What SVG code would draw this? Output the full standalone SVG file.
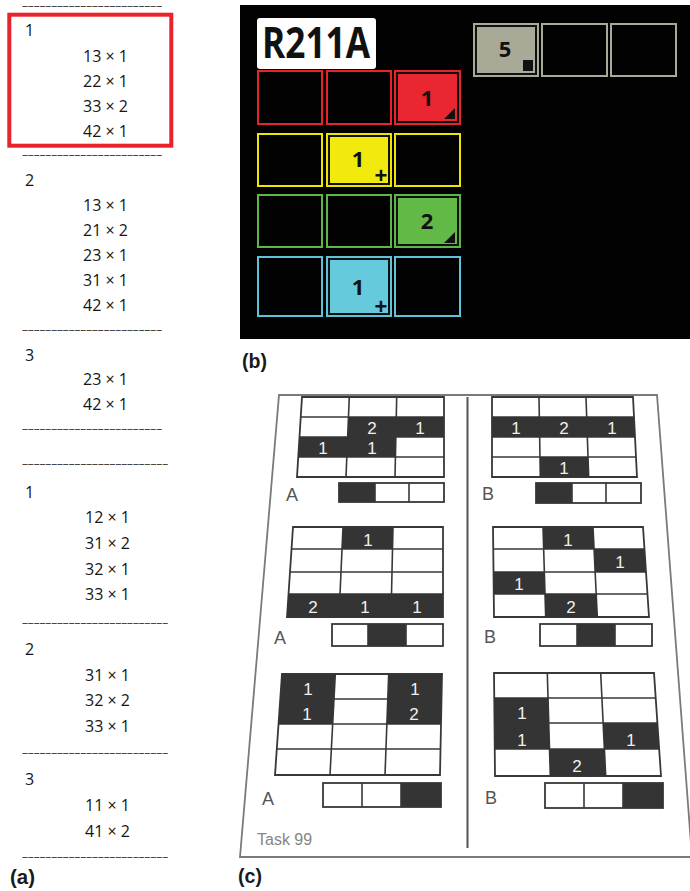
<svg xmlns="http://www.w3.org/2000/svg" width="690" height="891" viewBox="0 0 690 891">
<style>
.t{font-family:'Open Sans','Liberation Sans',sans-serif;font-size:16px;fill:#151515}
.d{font-family:'Liberation Sans',Arial,sans-serif;font-size:9px;fill:#333;stroke:#333;stroke-width:0.3}
.pl{font-family:'Liberation Sans',Arial,sans-serif;font-size:21px;font-weight:bold;fill:#1a1a1a}
.cn{font-family:'Open Sans','Liberation Sans',sans-serif;font-size:22px;font-weight:bold;fill:#111;text-anchor:middle}
.pm{font-family:'Liberation Sans',Arial,sans-serif;font-size:22px;font-weight:bold;fill:#111;text-anchor:middle}
.gf{fill:#fff;stroke:#383838;stroke-width:1.8}
.gl{stroke:#383838;stroke-width:1.6;fill:none}
.dk{fill:#343434}
.wn{font-family:'Liberation Sans',Arial,sans-serif;font-size:17px;fill:#f0f0f0;text-anchor:middle}
.lab{font-family:'Liberation Sans',Arial,sans-serif;font-size:18px;fill:#555}
</style>
<rect width="690" height="891" fill="#fff"/>

<!-- Panel (a) -->
<g id="panel-a">
  <rect id="highlight" x="9.3" y="14.7" width="162" height="131" fill="none" stroke="#e8232b" stroke-width="4"/>
  <g id="sep">
    <text class="d" x="22" y="8.6" textLength="140" lengthAdjust="spacingAndGlyphs">------------------------</text>
    <text class="d" x="22" y="158.2" textLength="140" lengthAdjust="spacingAndGlyphs">------------------------</text>
    <text class="d" x="22" y="332.5" textLength="140" lengthAdjust="spacingAndGlyphs">------------------------</text>
    <text class="d" x="22" y="431.5" textLength="140" lengthAdjust="spacingAndGlyphs">------------------------</text>
    <text class="d" x="22" y="467.2" textLength="146" lengthAdjust="spacingAndGlyphs">-------------------------</text>
    <text class="d" x="22" y="625.5" textLength="146" lengthAdjust="spacingAndGlyphs">-------------------------</text>
    <text class="d" x="22" y="755.5" textLength="146" lengthAdjust="spacingAndGlyphs">-------------------------</text>
    <text class="d" x="22" y="859.5" textLength="146" lengthAdjust="spacingAndGlyphs">-------------------------</text>
  </g>
  <g id="a-s1">
    <text class="t" x="25" y="36">1</text>
    <text class="t" x="83" y="61.5">13 × 1</text>
    <text class="t" x="83" y="87">22 × 1</text>
    <text class="t" x="83" y="111.5">33 × 2</text>
    <text class="t" x="83" y="136.5">42 × 1</text>
  </g>
  <g id="a-s2">
    <text class="t" x="25" y="185.5">2</text>
    <text class="t" x="83" y="211">13 × 1</text>
    <text class="t" x="83" y="236">21 × 2</text>
    <text class="t" x="83" y="261">23 × 1</text>
    <text class="t" x="83" y="286">31 × 1</text>
    <text class="t" x="83" y="310.5">42 × 1</text>
  </g>
  <g id="a-s3">
    <text class="t" x="25" y="360.5">3</text>
    <text class="t" x="83" y="385">23 × 1</text>
    <text class="t" x="83" y="410">42 × 1</text>
  </g>
  <g id="a-s4">
    <text class="t" x="25" y="498">1</text>
    <text class="t" x="85" y="523">12 × 1</text>
    <text class="t" x="85" y="549">31 × 2</text>
    <text class="t" x="85" y="574.5">32 × 1</text>
    <text class="t" x="85" y="600">33 × 1</text>
  </g>
  <g id="a-s5">
    <text class="t" x="25" y="655">2</text>
    <text class="t" x="85" y="680.5">31 × 1</text>
    <text class="t" x="85" y="706">32 × 2</text>
    <text class="t" x="85" y="731.5">33 × 1</text>
  </g>
  <g id="a-s6">
    <text class="t" x="25" y="784.5">3</text>
    <text class="t" x="85" y="810.5">11 × 1</text>
    <text class="t" x="85" y="836.5">41 × 2</text>
  </g>
  <text class="pl" x="10" y="884" textLength="25" lengthAdjust="spacingAndGlyphs">(a)</text>
</g>

<!-- Panel (b) -->
<g id="panel-b">
  <rect x="240" y="5" width="450" height="334" fill="#020202"/>
  <g id="b-label-box">
    <rect x="257" y="18" width="119" height="51" rx="3" fill="#fff"/>
    <text x="262" y="58" font-family="'Open Sans','Liberation Sans',sans-serif" font-size="43" font-weight="bold" fill="#111" textLength="108" lengthAdjust="spacingAndGlyphs">R211A</text>
  </g>
  <g id="b-red" stroke="#e8232b" stroke-width="2" fill="#020202">
    <rect x="258" y="71" width="64" height="53"/>
    <rect x="327" y="71" width="64" height="53"/>
    <rect x="395" y="71" width="65" height="53"/>
    <rect x="397" y="73" width="61" height="49" fill="#ea2630" stroke="#111"/>
    <polygon points="444,119 455,119 455,108" fill="#111" stroke="none"/>
    <text class="cn" x="427" y="106" stroke="none">1</text>
  </g>
  <g id="b-yellow" stroke="#eee400" stroke-width="2" fill="#020202">
    <rect x="258" y="134" width="64" height="52"/>
    <rect x="327" y="134" width="64" height="52"/>
    <rect x="395" y="134" width="65" height="52"/>
    <rect x="329" y="136" width="60" height="48" fill="#f2ea0c" stroke="#111"/>
    <text class="cn" x="358" y="167" stroke="none">1</text>
    <text class="pm" x="381" y="182.7" stroke="none">+</text>
  </g>
  <g id="b-green" stroke="#5fb648" stroke-width="2" fill="#020202">
    <rect x="258" y="195" width="64" height="52"/>
    <rect x="327" y="195" width="64" height="52"/>
    <rect x="395" y="195" width="65" height="52"/>
    <rect x="397" y="197" width="61" height="48" fill="#63b946" stroke="#111"/>
    <polygon points="444,243 455,243 455,232" fill="#111" stroke="none"/>
    <text class="cn" x="427" y="229" stroke="none">2</text>
  </g>
  <g id="b-cyan" stroke="#5ec3d8" stroke-width="2" fill="#020202">
    <rect x="258" y="257" width="64" height="59"/>
    <rect x="327" y="257" width="64" height="59"/>
    <rect x="395" y="257" width="65" height="59"/>
    <rect x="329" y="259" width="60" height="55" fill="#66cadd" stroke="#111"/>
    <text class="cn" x="358" y="295" stroke="none">1</text>
    <text class="pm" x="381" y="313.7" stroke="none">+</text>
  </g>
  <g id="b-gray" stroke="#a9a99a" stroke-width="2" fill="#020202">
    <rect x="474" y="24" width="64" height="52"/>
    <rect x="542" y="24" width="65" height="52"/>
    <rect x="611" y="24" width="65" height="52"/>
    <rect x="476" y="26" width="60" height="48" fill="#a9a998" stroke="#111"/>
    <rect x="523" y="60" width="10" height="11" fill="#111" stroke="none"/>
    <text class="cn" x="505" y="57" stroke="none">5</text>
  </g>
  <text class="pl" x="242" y="368" textLength="25" lengthAdjust="spacingAndGlyphs">(b)</text>
</g>

<!-- Panel (c) -->
<g id="panel-c">
  <polygon id="sheet" points="279,395 657,395 692,857 240,857" fill="#fff" stroke="#7a7a7a" stroke-width="1.8"/>
  <line id="divider" x1="467.5" y1="397" x2="467.5" y2="848" stroke="#555" stroke-width="2"/>

  <g id="grid-a1">
    <polygon class="gf" points="302,397 444,397 444,477 297,477"/>
    <path class="gl" d="M300.8,417H444M299.5,437H444M298.3,457H444M349.3,397L346,477M396.7,397L395,477"/>
    <polygon class="dk" points="348.5,417 444,417 444,437 347.7,437"/>
    <polygon class="dk" points="299.5,437 395.8,437 395.4,457 298.3,457"/>
    <text class="wn" x="372" y="434">2</text>
    <text class="wn" x="420" y="434">1</text>
    <text class="wn" x="323" y="454">1</text>
    <text class="wn" x="372" y="454">1</text>
  </g>
  <g id="bar-a1">
    <text class="lab" x="286" y="501">A</text>
    <rect class="gf" x="339" y="483" width="105" height="19"/>
    <rect class="dk" x="339" y="483" width="36" height="19"/>
    <path class="gl" d="M375,483V502M409,483V502"/>
  </g>

  <g id="grid-b1">
    <polygon class="gf" points="492,397 633,397 637,477 492,477"/>
    <path class="gl" d="M492,417H634M492,437H635M492,457H636M539,397L540.3,477M586,397L588.7,477"/>
    <polygon class="dk" points="492,417 634,417 635,437 492,437"/>
    <polygon class="dk" points="540,457 588,457 588.7,477 540.3,477"/>
    <text class="wn" x="516" y="434">1</text>
    <text class="wn" x="564" y="434">2</text>
    <text class="wn" x="612" y="434">1</text>
    <text class="wn" x="564" y="474">1</text>
  </g>
  <g id="bar-b1">
    <text class="lab" x="482" y="500">B</text>
    <rect class="gf" x="536" y="483" width="105" height="20"/>
    <rect class="dk" x="536" y="483" width="36" height="20"/>
    <path class="gl" d="M572,483V503M606,483V503"/>
  </g>

  <g id="grid-a2">
    <polygon class="gf" points="293,527 443,527 443,617 287,617"/>
    <path class="gl" d="M291.5,549H443M290,572H443M288.5,594H443M343,527L339,617M393,527L391,617"/>
    <polygon class="dk" points="343,527 393,527 392.5,549 342,549"/>
    <polygon class="dk" points="288.5,594 443,594 443,617 287,617"/>
    <text class="wn" x="368" y="545.5">1</text>
    <text class="wn" x="313" y="613">2</text>
    <text class="wn" x="365" y="613">1</text>
    <text class="wn" x="417" y="613">1</text>
  </g>
  <g id="bar-a2">
    <text class="lab" x="274" y="644">A</text>
    <rect class="gf" x="332" y="624" width="111" height="22"/>
    <rect class="dk" x="368" y="624" width="38" height="22"/>
    <path class="gl" d="M368,624V646M406,624V646"/>
  </g>

  <g id="grid-b2">
    <polygon class="gf" points="493,527 643,527 649,617 494,617"/>
    <path class="gl" d="M493.2,549H644.5M493.5,572H646M493.7,594H647.5M543,527L545.7,617M593,527L597.3,617"/>
    <polygon class="dk" points="543,527 593,527 594.1,549 543.7,549"/>
    <polygon class="dk" points="594.1,549 644.5,549 646,572 595.2,572"/>
    <polygon class="dk" points="493.5,572 544.3,572 545,594 493.7,594"/>
    <polygon class="dk" points="545,594 596.2,594 597.3,617 545.7,617"/>
    <text class="wn" x="568" y="545.5">1</text>
    <text class="wn" x="620" y="568">1</text>
    <text class="wn" x="519" y="590">1</text>
    <text class="wn" x="571" y="612.5">2</text>
  </g>
  <g id="bar-b2">
    <text class="lab" x="484" y="643">B</text>
    <rect class="gf" x="540" y="624" width="112" height="22"/>
    <rect class="dk" x="577" y="624" width="38" height="22"/>
    <path class="gl" d="M577,624V646M615,624V646"/>
  </g>

  <g id="grid-a3">
    <polygon class="gf" points="282,674 442,674 440,775 275,775"/>
    <path class="gl" d="M280.3,699H441.5M278.5,724H441M276.8,749H440.5M335.3,674L330,775M388.7,674L385,775"/>
    <polygon class="dk" points="282,674 335.3,674 332.7,724 278.5,724"/>
    <polygon class="dk" points="388.7,674 442,674 441,724 386.8,724"/>
    <text class="wn" x="308" y="695">1</text>
    <text class="wn" x="307" y="720">1</text>
    <text class="wn" x="415" y="695">1</text>
    <text class="wn" x="414" y="720">2</text>
  </g>
  <g id="bar-a3">
    <text class="lab" x="262" y="805">A</text>
    <rect class="gf" x="323" y="783" width="118" height="24"/>
    <rect class="dk" x="401" y="783" width="40" height="24"/>
    <path class="gl" d="M362,783V807M401,783V807"/>
  </g>

  <g id="grid-b3">
    <polygon class="gf" points="494,673 654,673 661,776 495,776"/>
    <path class="gl" d="M494.2,698H655.7M494.5,723H657.4M494.7,749H659.2M547.3,673L550.3,776M600.7,673L605.7,776"/>
    <polygon class="dk" points="494.2,698 548.1,698 549.5,749 494.7,749"/>
    <polygon class="dk" points="603.1,723 657.4,723 659.2,749 604.4,749"/>
    <polygon class="dk" points="549.5,749 604.4,749 605.7,776 550.3,776"/>
    <text class="wn" x="522" y="719">1</text>
    <text class="wn" x="522" y="745.5">1</text>
    <text class="wn" x="631" y="745.5">1</text>
    <text class="wn" x="577" y="771.5">2</text>
  </g>
  <g id="bar-b3">
    <text class="lab" x="485" y="804">B</text>
    <rect class="gf" x="545" y="783" width="118" height="25"/>
    <rect class="dk" x="623" y="783" width="40" height="25"/>
    <path class="gl" d="M584,783V808M623,783V808"/>
  </g>

  <text x="257" y="845" font-family="'Liberation Sans',Arial,sans-serif" font-size="16" fill="#858585">Task 99</text>
  <text class="pl" x="238" y="883" textLength="24" lengthAdjust="spacingAndGlyphs">(c)</text>
</g>
<g id="connectors"/>
</svg>
